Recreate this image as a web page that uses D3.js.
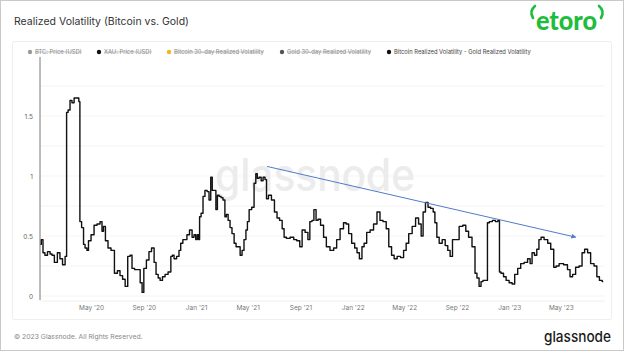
<!DOCTYPE html>
<html>
<head>
<meta charset="utf-8">
<script src="https://cdn.jsdelivr.net/npm/d3@7"></script>
<style>
  body { margin: 0; background: #fff; }
  svg { display: block; font-family: Inter, "Open Sans", sans-serif; }
</style>
</head>
<body>
<div id="chart"></div>
<script>
// Bitcoin realized volatility minus gold realized volatility
const dates = [
  "2020-01-04","2020-01-08","2020-01-12","2020-01-17","2020-01-24","2020-01-29","2020-02-02","2020-02-09",
  "2020-02-16","2020-02-21","2020-02-28","2020-03-04","2020-03-06","2020-03-11","2020-03-15","2020-03-20",
  "2020-03-25","2020-04-01","2020-04-04","2020-04-06","2020-04-12","2020-04-15","2020-04-19","2020-04-24",
  "2020-04-26","2020-05-06","2020-05-10","2020-05-20","2020-05-24","2020-05-29","2020-05-31","2020-06-07",
  "2020-06-12","2020-06-21","2020-06-28","2020-07-05","2020-07-10","2020-07-17","2020-07-22","2020-07-29",
  "2020-08-02","2020-08-07","2020-08-14","2020-08-21","2020-08-26","2020-08-30","2020-09-03","2020-09-11",
  "2020-09-15","2020-09-23","2020-09-27","2020-10-02","2020-10-07","2020-10-11","2020-10-18","2020-10-23",
  "2020-11-01","2020-11-05","2020-11-08","2020-11-13","2020-11-20","2020-11-24","2020-11-28","2020-12-04",
  "2020-12-08","2020-12-13","2020-12-20","2020-12-25","2020-12-29","2021-01-02","2021-01-05","2021-01-08",
  "2021-01-10","2021-01-15","2021-01-19","2021-01-24","2021-01-29","2021-02-02","2021-02-06","2021-02-09",
  "2021-02-14","2021-02-18","2021-02-21","2021-02-26","2021-03-02","2021-03-07","2021-03-11","2021-03-14",
  "2021-03-19","2021-03-23","2021-03-28","2021-04-02","2021-04-06","2021-04-11","2021-04-16","2021-04-20",
  "2021-04-25","2021-04-29","2021-05-02","2021-05-07","2021-05-14","2021-05-18","2021-05-22","2021-05-25",
  "2021-05-30","2021-06-04","2021-06-08","2021-06-13","2021-06-15","2021-06-22","2021-06-29","2021-07-06",
  "2021-07-11","2021-07-18","2021-07-23","2021-07-27","2021-08-03","2021-08-13","2021-08-20","2021-08-27",
  "2021-09-03","2021-09-07","2021-09-17","2021-09-20","2021-09-26","2021-09-30","2021-10-05","2021-10-10",
  "2021-10-14","2021-10-22","2021-10-28","2021-11-04","2021-11-14","2021-11-21","2021-11-28","2021-12-07",
  "2021-12-14","2021-12-19","2021-12-26","2022-01-02","2022-01-09","2022-01-13","2022-01-20","2022-01-25",
  "2022-01-30","2022-02-06","2022-02-15","2022-02-22","2022-03-03","2022-03-08","2022-03-17","2022-03-23",
  "2022-03-29","2022-04-05","2022-04-10","2022-04-19","2022-04-26","2022-05-03","2022-05-08","2022-05-15",
  "2022-05-24","2022-05-31","2022-06-07","2022-06-12","2022-06-16","2022-06-23","2022-06-28","2022-07-05",
  "2022-07-10","2022-07-13","2022-07-19","2022-07-24","2022-08-02","2022-08-07","2022-08-14","2022-08-18",
  "2022-08-25","2022-09-01","2022-09-11","2022-09-18","2022-09-25","2022-10-01","2022-10-11","2022-10-15",
  "2022-10-20","2022-10-25","2022-10-29","2022-11-03","2022-11-10","2022-11-12","2022-11-19","2022-11-26",
  "2022-12-03","2022-12-08","2022-12-10","2022-12-15","2022-12-22","2022-12-27","2023-01-05","2023-01-10",
  "2023-01-17","2023-01-24","2023-01-31","2023-02-09","2023-02-16","2023-02-21","2023-02-25","2023-03-04",
  "2023-03-08","2023-03-14","2023-03-18","2023-03-28","2023-04-04","2023-04-11","2023-04-18","2023-04-22",
  "2023-05-02","2023-05-13","2023-05-20","2023-05-25","2023-06-01","2023-06-08","2023-06-17","2023-06-22",
  "2023-06-29","2023-07-06","2023-07-13","2023-07-22","2023-07-26","2023-08-03","2023-08-08"
];
const values = [
  0.43,0.47,0.36,0.34,0.37,0.35,0.34,0.28,
  0.36,0.31,0.26,0.33,1.53,1.55,1.63,1.61,
  1.65,1.65,1.62,0.62,0.57,0.43,0.40,0.38,
  0.46,0.51,0.59,0.60,0.62,0.54,0.58,0.46,
  0.40,0.38,0.19,0.21,0.17,0.14,0.08,0.33,
  0.34,0.23,0.22,0.22,0.11,0.03,0.23,0.30,
  0.37,0.40,0.28,0.18,0.15,0.13,0.16,0.18,
  0.20,0.33,0.34,0.31,0.33,0.38,0.44,0.47,
  0.47,0.51,0.55,0.49,0.51,0.47,0.51,0.47,
  0.66,0.69,0.83,0.88,0.87,0.80,0.99,0.88,
  0.88,0.72,0.84,0.83,0.82,0.80,0.66,0.68,
  0.63,0.57,0.52,0.44,0.41,0.41,0.34,0.38,
  0.47,0.55,0.62,0.72,0.74,0.94,1.02,0.98,
  0.99,0.96,0.99,0.97,0.81,0.84,0.80,0.70,
  0.65,0.63,0.56,0.49,0.48,0.49,0.47,0.46,
  0.41,0.55,0.53,0.47,0.62,0.63,0.72,0.63,
  0.64,0.59,0.49,0.41,0.38,0.40,0.47,0.56,
  0.61,0.60,0.52,0.44,0.40,0.36,0.31,0.41,
  0.44,0.53,0.55,0.60,0.70,0.63,0.62,0.56,
  0.41,0.34,0.31,0.33,0.32,0.38,0.44,0.52,
  0.58,0.65,0.60,0.50,0.70,0.78,0.74,0.73,
  0.70,0.61,0.49,0.44,0.47,0.42,0.38,0.33,
  0.47,0.47,0.58,0.59,0.54,0.49,0.41,0.19,
  0.15,0.08,0.12,0.13,0.13,0.61,0.62,0.63,
  0.62,0.63,0.20,0.19,0.16,0.13,0.11,0.10,
  0.18,0.23,0.27,0.28,0.31,0.27,0.36,0.34,
  0.39,0.47,0.49,0.47,0.44,0.39,0.24,0.25,
  0.27,0.26,0.22,0.16,0.18,0.24,0.25,0.36,
  0.39,0.36,0.27,0.25,0.16,0.13,0.12
];

// hand-drawn trend arrow
const trendDates = ["2021-06-15", "2023-06-05"];
const trendValues = [1.08, 0.49];

const yTicks = [0, 0.5, 1, 1.5];
const yGrid = [0, 0.25, 0.5, 0.75, 1, 1.25, 1.5, 1.75];
const xTickDates = ["2020-05-01","2020-09-01","2021-01-01","2021-05-01","2021-09-01",
  "2022-01-01","2022-05-01","2022-09-01","2023-01-01","2023-05-01"];

const legendLabels = ["BTC: Price (USD)", "XAU: Price (USD)", "Bitcoin 30-day Realized Volatility",
  "Gold 30-day Realized Volatility", "Bitcoin Realized Volatility - Gold Realized Volatility"];
const legendColors = ["#9a9a9a", "#111111", "#f2b621", "#555555", "#111111"];
const legendHidden = [true, true, true, true, false];

const W = 624, H = 351;
const parse = d3.timeParse("%Y-%m-%d");
const data = d3.zip(dates.map(parse), values);

const svg = d3.select("#chart").append("svg").attr("width", W).attr("height", H);

// outer frame + chart panel
svg.append("rect").attr("x", 0.5).attr("y", 0.5).attr("width", W - 1).attr("height", H - 1)
  .attr("fill", "#fff").attr("stroke", "#c9c9c9");
svg.append("rect").attr("x", 12.5).attr("y", 41.5).attr("width", 599).attr("height", 278)
  .attr("rx", 2).attr("fill", "#fff").attr("stroke", "#eeeeee");

// title
svg.append("text").attr("x", 14).attr("y", 25)
  .style("font-size", "10.5px").style("fill", "#333")
  .text("Realized Volatility (Bitcoin vs. Gold)");

// eToro logo
const logo = svg.append("g").attr("fill", "#1fbd3d").attr("stroke", "#1fbd3d");
logo.append("text").attr("x", 536).attr("y", 30).attr("stroke", "none")
  .attr("textLength", 61).attr("lengthAdjust", "spacingAndGlyphs")
  .style("font-size", "27px").style("font-weight", "900").style("font-family", "Lato, Inter, sans-serif")
  .text("etoro");
logo.append("path").attr("fill", "none").attr("stroke-width", 2.6).attr("stroke-linecap", "round")
  .attr("d", "M535,6 Q529,11 533,18");
logo.append("path").attr("fill", "none").attr("stroke-width", 2.6).attr("stroke-linecap", "round")
  .attr("d", "M599,6 Q605,11 601,18");

// legend
const legendX = [30, 99, 169, 282, 389];
const legend = svg.append("g").selectAll("g").data(legendLabels).enter().append("g")
  .attr("transform", (d, i) => `translate(${legendX[i]}, 52)`);
legend.append("circle").attr("r", 2.2).attr("fill", (d, i) => legendColors[i]);
legend.append("text").attr("x", 5).attr("y", 2)
  .style("font-size", "5.8px").style("fill", (d, i) => legendHidden[i] ? "#8a8a8a" : "#444")
  .text(d => d)
  .each(function (d, i) {
    if (!legendHidden[i]) return;
    const len = this.getComputedTextLength();
    d3.select(this.parentNode).append("line")
      .attr("x1", 5).attr("x2", 5 + len).attr("y1", 0).attr("y2", 0)
      .attr("stroke", "#8a8a8a").attr("stroke-width", 0.5);
  });

// scales
const x = d3.scaleTime().domain([new Date(2020, 0, 3), new Date(2023, 7, 12)]).range([40, 605]);
const y = d3.scaleLinear().domain([0, 2]).range([296, 56]);

// grid
svg.append("g").selectAll("line").data(yGrid).enter().append("line")
  .attr("x1", 40).attr("x2", 605).attr("y1", d => y(d)).attr("y2", d => y(d))
  .attr("stroke", "#f1f1f1").attr("stroke-width", 0.7);

// watermark
svg.append("text").attr("x", 315).attr("y", 191).attr("text-anchor", "middle")
  .attr("textLength", 200).attr("lengthAdjust", "spacingAndGlyphs")
  .style("font-size", "45px").style("font-weight", "500").style("fill", "#ececec")
  .text("glassnode");

// x baseline
svg.append("line").attr("x1", 40).attr("x2", 605).attr("y1", 301).attr("y2", 301)
  .attr("stroke", "#ececec").attr("stroke-width", 0.8);

// y axis
svg.append("g").attr("transform", "translate(40,0)")
  .call(d3.axisLeft(y).tickValues(yTicks).tickSize(0).tickPadding(7).tickFormat(d => String(d)))
  .call(g => g.select(".domain").remove())
  .call(g => g.selectAll("text").style("font-size", "6.5px").style("fill", "#666")
    .style("font-family", "Inter, sans-serif"));
svg.append("line").attr("x1", 40).attr("x2", 40).attr("y1", 57).attr("y2", 300)
  .attr("stroke", "#555").attr("stroke-width", 0.8);

// x axis
svg.append("g").attr("transform", "translate(0,305)")
  .call(d3.axisBottom(x).tickValues(xTickDates.map(parse)).tickSize(0).tickPadding(0)
    .tickFormat(d3.timeFormat("%b '%y")))
  .call(g => g.select(".domain").remove())
  .call(g => g.selectAll("text").style("font-size", "6.5px").style("fill", "#777")
    .style("font-family", "Inter, sans-serif"));

// series (stepped, like the daily source data)
const line = d3.line().x(d => x(d[0])).y(d => y(d[1]));
const stepLine = d3.line().x(d => x(d[0])).y(d => y(d[1])).curve(d3.curveStep);
svg.append("path").datum(data).attr("d", stepLine)
  .attr("fill", "none").attr("stroke", "#111").attr("stroke-width", 1.4)
  .attr("stroke-linejoin", "round");

// trend arrow
svg.append("defs").append("marker").attr("id", "arrow")
  .attr("viewBox", "0 0 10 10").attr("refX", 9).attr("refY", 5)
  .attr("markerWidth", 5).attr("markerHeight", 5).attr("orient", "auto")
  .append("path").attr("d", "M0,0 L10,5 L0,10 z").attr("fill", "#4f7cc8");
svg.append("path")
  .datum(d3.zip(trendDates.map(parse), trendValues))
  .attr("d", line).attr("fill", "none").attr("stroke", "#4f7cc8").attr("stroke-width", 1)
  .attr("marker-end", "url(#arrow)");

// footer
svg.append("text").attr("x", 14).attr("y", 339)
  .style("font-size", "6.8px").style("fill", "#888")
  .text("© 2023 Glassnode. All Rights Reserved.");
svg.append("text").attr("x", 611).attr("y", 342).attr("text-anchor", "end")
  .attr("textLength", 67).attr("lengthAdjust", "spacingAndGlyphs")
  .style("font-size", "15px").style("font-weight", "500").style("fill", "#1a1a1a")
  .text("glassnode");
</script>
</body>
</html>
